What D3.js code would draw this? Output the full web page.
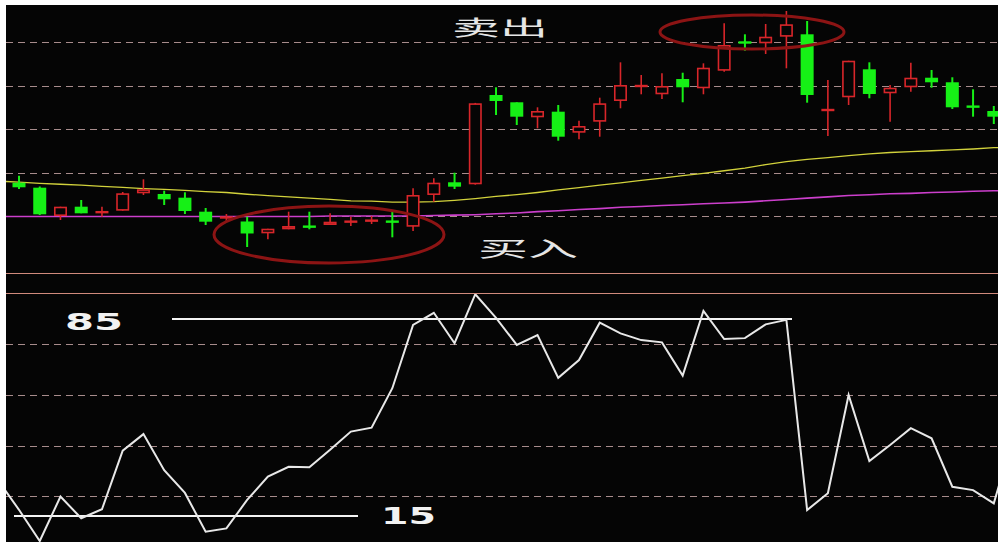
<!DOCTYPE html>
<html><head><meta charset="utf-8">
<script src="https://cdn.jsdelivr.net/npm/d3@7/dist/d3.min.js"></script>
<style>html,body{margin:0;padding:0;background:#fff;}svg{display:block}</style>
</head><body>
<svg id="c" width="998" height="542"></svg>
<script>
// ---- candlestick data (price units) ----
const openP = [9.766, 9.651, 9.000, 9.214, 9.062, 9.122, 9.522, 9.506, 9.421, 9.099,
  8.954, 8.874, 8.602, 8.694, 8.763, 8.793, 8.862, 8.885, 8.878, 8.754,
  9.483, 9.775, 9.729, 11.782, 11.614, 11.269, 11.398, 10.915, 11.168, 11.644,
  11.977, 11.798, 12.149, 11.936, 12.340, 13.000, 12.970, 13.122, 13.177, 11.425,
  11.729, 12.372, 11.821, 11.959, 12.179, 12.074, 11.522, 11.414];
const closeP = [9.660, 9.039, 9.214, 9.062, 9.115, 9.522, 9.614, 9.384, 9.115, 8.869,
  8.977, 8.598, 8.708, 8.770, 8.747, 8.869, 8.878, 8.901, 8.862, 9.483,
  9.766, 9.674, 11.591, 11.644, 11.283, 11.414, 10.823, 11.069, 11.591, 12.011,
  12.000, 11.989, 11.959, 12.409, 12.931, 12.977, 13.122, 13.407, 11.782, 11.448,
  12.570, 11.805, 11.949, 12.179, 12.074, 11.499, 11.506, 11.283];
const highP = [9.926, 9.678, 9.214, 9.368, 9.214, 9.552, 9.844, 9.582, 9.545, 9.184,
  9.046, 8.984, 8.708, 9.099, 9.099, 9.062, 8.984, 9.000, 9.099, 9.637,
  9.867, 9.995, 11.600, 11.959, 11.614, 11.499, 11.552, 11.191, 11.720, 12.533,
  12.241, 12.280, 12.294, 12.510, 13.430, 13.177, 13.414, 13.713, 13.483, 12.126,
  12.570, 12.533, 12.011, 12.524, 12.356, 12.189, 11.913, 11.529];
const lowP = [9.621, 9.023, 8.908, 9.062, 8.984, 9.122, 9.483, 9.253, 9.046, 8.793,
  8.885, 8.287, 8.464, 8.694, 8.694, 8.793, 8.770, 8.816, 8.510, 8.655,
  9.329, 9.621, 9.720, 11.322, 11.092, 11.016, 10.731, 10.763, 10.823, 11.476,
  11.798, 11.690, 11.614, 11.798, 12.317, 12.800, 12.724, 12.395, 11.605, 10.839,
  11.552, 11.706, 11.168, 11.857, 11.949, 11.460, 11.283, 11.115];

// moving averages, one value per bar from index -1 to 48
const maYellow = [9.80, 9.78, 9.75, 9.73, 9.71, 9.68, 9.66, 9.63, 9.61, 9.59,
  9.56, 9.54, 9.50, 9.47, 9.44, 9.41, 9.38, 9.35, 9.34, 9.32,
  9.32, 9.33, 9.36, 9.40, 9.45, 9.49, 9.54, 9.60, 9.65, 9.71,
  9.76, 9.82, 9.87, 9.93, 9.98, 10.04, 10.10, 10.18, 10.25, 10.30,
  10.34, 10.39, 10.43, 10.46, 10.48, 10.50, 10.52, 10.54, 10.57, 10.58];
const maPurple = [8.99, 8.99, 8.99, 8.99, 8.99, 8.99, 8.99, 8.99, 8.99, 8.99,
  8.99, 8.99, 8.99, 8.99, 8.99, 8.99, 9.00, 9.00, 9.00, 9.00,
  9.00, 9.01, 9.02, 9.03, 9.05, 9.07, 9.10, 9.12, 9.15, 9.17,
  9.20, 9.22, 9.24, 9.26, 9.28, 9.30, 9.32, 9.35, 9.38, 9.41,
  9.44, 9.47, 9.49, 9.51, 9.52, 9.54, 9.55, 9.57, 9.58, 9.59];

// oscillator values, index -1 to 48
const kdValues = [27.6, 17.2, 6.1, 21.9, 14.2, 17.4, 38.2, 44.1, 31.3, 23.2,
  9.4, 10.6, 20.7, 29.0, 32.5, 32.3, 38.5, 45.0, 46.4, 60.4,
  82.9, 87.2, 76.4, 93.8, 85.4, 75.8, 79.3, 64.1, 70.4, 83.7,
  79.9, 77.5, 76.7, 64.9, 87.9, 77.9, 78.2, 83.1, 84.7, 17.1,
  23.1, 58.0, 34.5, 40.2, 46.2, 42.6, 25.4, 24.2, 19.5, 45.0];

const priceGrid = [9, 10, 11, 12, 13];
const kdGrid = [22, 40, 58, 76];
const kdLevels = ["85", "15"];
const sellLabel = "卖出";
const buyLabel = "买入";

// ---- drawing ----
const svg = d3.select("#c");
const defs = svg.append("defs");
defs.append("clipPath").attr("id","clipTop").append("rect")
  .attr("x",6).attr("y",5).attr("width",992).attr("height",268);
defs.append("clipPath").attr("id","clipBot").append("rect")
  .attr("x",6).attr("y",294).attr("width",992).attr("height",248);

svg.append("rect").attr("x",6).attr("y",5).attr("width",992).attr("height",537).attr("fill","#050505");

const x = d3.scaleLinear().domain([0, 47]).range([19, 993.8]);
const yP = d3.scaleLinear().domain([9, 13]).range([216, 42]);
const yK = d3.scaleLinear().domain([15, 85]).range([516, 319]);

const gridColor = "#a88c8c";
svg.append("g").selectAll("line").data(priceGrid).join("line")
  .attr("x1",6).attr("x2",998)
  .attr("y1",d=>Math.round(yP(d))+0.5).attr("y2",d=>Math.round(yP(d))+0.5)
  .attr("stroke",gridColor).attr("stroke-width",1).attr("stroke-dasharray","7,5");
svg.append("g").selectAll("line").data(kdGrid).join("line")
  .attr("x1",6).attr("x2",998)
  .attr("y1",d=>Math.round(yK(d))+0.5).attr("y2",d=>Math.round(yK(d))+0.5)
  .attr("stroke",gridColor).attr("stroke-width",1).attr("stroke-dasharray","7,5");

[273.5, 293.5].forEach(yy => svg.append("line").attr("x1",6).attr("x2",998)
  .attr("y1",yy).attr("y2",yy).attr("stroke","#d08a7c").attr("stroke-width",1));

const topG = svg.append("g").attr("clip-path","url(#clipTop)");

const maLine = d3.line().x((d,i)=>x(i-1)).y(d=>yP(d));
topG.append("path").attr("d", maLine(maYellow)).attr("fill","none")
  .attr("stroke","#d2d23c").attr("stroke-width",1.3);
topG.append("path").attr("d", maLine(maPurple)).attr("fill","none")
  .attr("stroke","#cc3fcc").attr("stroke-width",1.6);

const RED = "#d8262a", GREEN = "#16f016";
const bodyW = 13;
const candles = openP.map((o,i)=>({i, o, c: closeP[i], h: highP[i], l: lowP[i]}));
const cg = topG.append("g");
candles.forEach(d => {
  const up = d.c >= d.o;
  const col = up ? RED : GREEN;
  const cx = x(d.i);
  const yTop = yP(Math.max(d.o, d.c)), yBot = yP(Math.min(d.o, d.c));
  const hgt = yBot - yTop;
  cg.append("line").attr("x1",cx).attr("x2",cx).attr("y1",yP(d.h)).attr("y2",yP(d.l))
    .attr("stroke",col).attr("stroke-width", up ? 1.6 : 2);
  if (hgt < 2.5) {
    cg.append("rect").attr("x",cx-bodyW/2).attr("y",(yTop+yBot)/2-1.2)
      .attr("width",bodyW).attr("height",2.4).attr("fill",col);
  } else if (up) {
    cg.append("rect").attr("x",cx-bodyW/2+0.8).attr("y",yTop+0.8)
      .attr("width",bodyW-1.6).attr("height",hgt-1.6)
      .attr("fill","#050505").attr("stroke",col).attr("stroke-width",1.6);
  } else {
    cg.append("rect").attr("x",cx-bodyW/2).attr("y",yTop)
      .attr("width",bodyW).attr("height",hgt).attr("fill",col);
  }
});

const ellColor = "#8c1414";
topG.append("ellipse").attr("cx",329).attr("cy",234.5).attr("rx",115).attr("ry",28.5)
  .attr("fill","none").attr("stroke",ellColor).attr("stroke-width",3);
topG.append("ellipse").attr("cx",752).attr("cy",32).attr("rx",92).attr("ry",17)
  .attr("fill","none").attr("stroke",ellColor).attr("stroke-width",3);

const cjk = "'Noto Sans CJK SC', 'Noto Sans CJK JP', sans-serif";
svg.append("text").attr("x",452).attr("y",34.5).text(sellLabel)
  .attr("font-family",cjk).attr("font-size",21).attr("fill","#e6e6e6")
  .attr("textLength",96).attr("lengthAdjust","spacingAndGlyphs");
svg.append("text").attr("x",478).attr("y",255.5).text(buyLabel)
  .attr("font-family",cjk).attr("font-size",21).attr("fill","#e6e6e6")
  .attr("textLength",100).attr("lengthAdjust","spacingAndGlyphs");

const botG = svg.append("g").attr("clip-path","url(#clipBot)");
botG.append("line").attr("x1",172).attr("x2",792).attr("y1",yK(85)).attr("y2",yK(85))
  .attr("stroke","#f4f4f4").attr("stroke-width",2);
botG.append("line").attr("x1",14).attr("x2",358).attr("y1",yK(15)).attr("y2",yK(15))
  .attr("stroke","#f4f4f4").attr("stroke-width",2);

const kdLine = d3.line().x((d,i)=>x(i-1)).y(d=>yK(d));
botG.append("path").attr("d", kdLine(kdValues)).attr("fill","none")
  .attr("stroke","#e8e8e8").attr("stroke-width",2).attr("stroke-linejoin","miter");

const lab = "'DejaVu Sans', Verdana, sans-serif";
svg.append("text").attr("x",65).attr("y",yK(85)+10.5).text(kdLevels[0])
  .attr("font-family",lab).attr("font-weight","bold").attr("font-size",23)
  .attr("fill","#f2f2f2").attr("textLength",58).attr("lengthAdjust","spacingAndGlyphs");
svg.append("text").attr("x",381).attr("y",yK(15)+7.5).text(kdLevels[1])
  .attr("font-family",lab).attr("font-weight","bold").attr("font-size",23)
  .attr("fill","#f2f2f2").attr("textLength",55).attr("lengthAdjust","spacingAndGlyphs");
</script>
</body></html>
